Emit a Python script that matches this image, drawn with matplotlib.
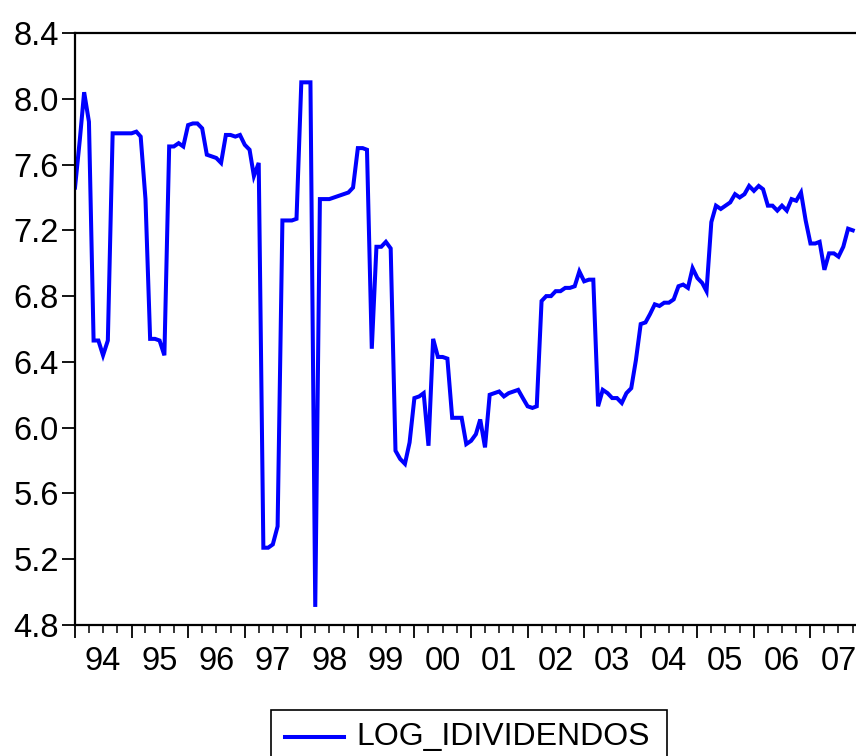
import datetime as dt

import matplotlib
matplotlib.use("Agg")
import matplotlib.dates as mdates
import matplotlib.pyplot as plt
import pandas as pd
from matplotlib.lines import Line2D
from matplotlib.patches import Rectangle

# serie mensual desde 1994M01
start = "1994-01-01"
serie = "LOG_IDIVIDENDOS"
valores = [
    7.46, 7.75, 8.04, 7.86, 6.53, 6.53, 6.44, 6.53, 7.79, 7.79, 7.79, 7.79,
    7.79, 7.80, 7.77, 7.39, 6.54, 6.54, 6.53, 6.44, 7.71, 7.71, 7.73, 7.71,
    7.84, 7.85, 7.85, 7.82, 7.66, 7.65, 7.64, 7.61, 7.78, 7.78, 7.77, 7.78,
    7.72, 7.69, 7.53, 7.61, 5.27, 5.27, 5.29, 5.40, 7.26, 7.26, 7.26, 7.27,
    8.10, 8.10, 8.10, 4.91, 7.39, 7.39, 7.39, 7.40, 7.41, 7.42, 7.43, 7.46,
    7.70, 7.70, 7.69, 6.48, 7.10, 7.10, 7.13, 7.09, 5.86, 5.81, 5.78, 5.91,
    6.18, 6.19, 6.21, 5.89, 6.54, 6.43, 6.43, 6.42, 6.06, 6.06, 6.06, 5.90,
    5.92, 5.96, 6.05, 5.88, 6.20, 6.21, 6.22, 6.19, 6.21, 6.22, 6.23, 6.18,
    6.13, 6.12, 6.13, 6.77, 6.80, 6.80, 6.83, 6.83, 6.85, 6.85, 6.86, 6.95,
    6.89, 6.90, 6.90, 6.13, 6.23, 6.21, 6.18, 6.18, 6.15, 6.21, 6.24, 6.41,
    6.63, 6.64, 6.69, 6.75, 6.74, 6.76, 6.76, 6.78, 6.86, 6.87, 6.85, 6.97,
    6.91, 6.88, 6.83, 7.25, 7.35, 7.33, 7.35, 7.37, 7.42, 7.40, 7.42, 7.47,
    7.44, 7.47, 7.45, 7.35, 7.35, 7.32, 7.35, 7.32, 7.39, 7.38, 7.43, 7.26,
    7.12, 7.12, 7.13, 6.96, 7.06, 7.06, 7.04, 7.10, 7.21, 7.20,
]
anios = list(range(1994, 2008))
yticks = [4.8, 5.2, 5.6, 6.0, 6.4, 6.8, 7.2, 7.6, 8.0, 8.4]

fechas = pd.date_range(start, periods=len(valores), freq="MS")

plt.rcParams["font.family"] = ["Liberation Sans", "DejaVu Sans"]
W, H = 856, 756
fig = plt.figure(figsize=(W / 100, H / 100), dpi=100)

# eje: borde derecho fuera de la imagen (como en el original recortado)
left, right = 75, 867
top, bottom = 33, 625
ax = fig.add_axes([left / W, 1 - bottom / H, (right - left) / W, (bottom - top) / H])

ax.plot(fechas, valores, color="#0000ff", lw=2.9, solid_joinstyle="miter")

ax.set_ylim(4.8, 8.4)
ax.set_yticks(yticks)
ax.set_yticklabels([f"{v:.1f}" for v in yticks])
ax.set_xlim(dt.datetime(1994, 1, 1), dt.datetime(2008, 1, 1))

ax.xaxis.set_major_locator(mdates.YearLocator())
ax.xaxis.set_minor_locator(mdates.MonthLocator(bymonth=[4, 7, 10]))
ax.xaxis.set_major_formatter(plt.NullFormatter())

for s in ax.spines.values():
    s.set_linewidth(1.6)
ax.tick_params(axis="y", direction="out", length=9.5, width=1.3, labelsize=23.5, pad=2)
ax.tick_params(axis="x", which="major", direction="out", length=9.5, width=1.3)
ax.tick_params(axis="x", which="minor", direction="out", length=5.5, width=1.1)

# etiquetas de año centradas en cada año
for a in anios:
    ax.annotate(f"{a % 100:02d}", xy=(dt.datetime(a, 7, 1), 0),
                xycoords=("data", "axes fraction"), xytext=(0, -26),
                textcoords="offset points", ha="center", va="center",
                fontsize=23.5, annotation_clip=False)

# leyenda (recortada por abajo como en la imagen)
fig.add_artist(Rectangle((271 / W, 1 - 770 / H), (667 - 271) / W, (770 - 710) / H,
                         transform=fig.transFigure, fill=False, ec="black", lw=1.2))
fig.add_artist(Line2D([285 / W, 344 / W], [1 - 737 / H, 1 - 737 / H],
                      transform=fig.transFigure, color="#0000ff", lw=2.9))
fig.text(356 / W, 1 - 737 / H, serie, fontsize=23, ha="left", va="center")

fig.savefig("out.png", dpi=100)
